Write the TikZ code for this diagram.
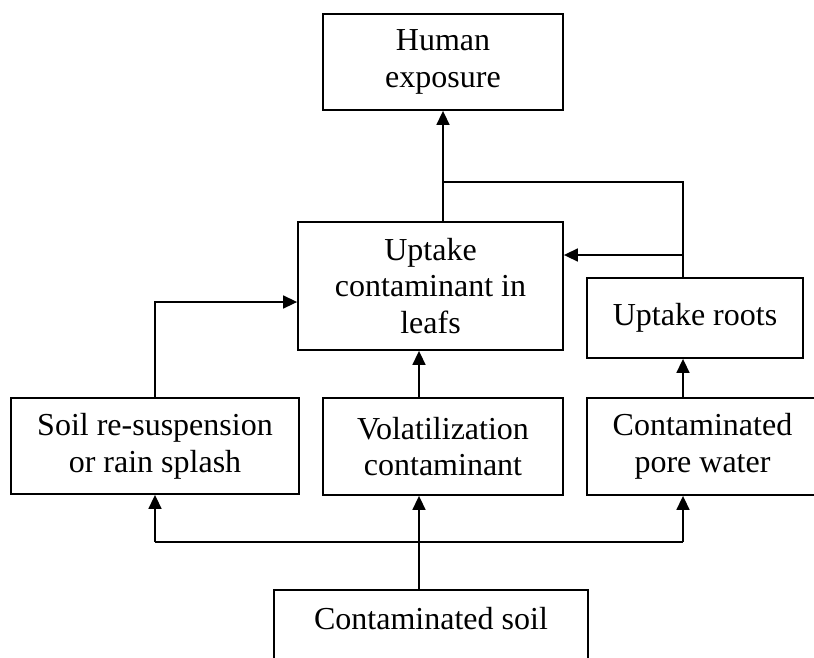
\documentclass[tikz,border=0pt]{standalone}
\usepackage{fontspec}
\setmainfont{Liberation Serif}
\usetikzlibrary{arrows.meta}
\begin{document}
\begin{tikzpicture}[x=1pt,y=-1pt,
  box/.style={draw=black, line width=1.8pt, rectangle, inner sep=0pt, align=center,
    font=\fontsize{32}{36.8}\selectfont},
  txt/.style={inner sep=0pt, align=center, font=\fontsize{32}{36.8}\selectfont},
  conn/.style={line width=1.6pt},
  arr/.style={conn, -{Triangle[length=14pt,width=13pt]}}]
\useasboundingbox (0,0) rectangle (814,657);
\clip (0,0) rectangle (814,657);
\node[box, minimum width=240pt, minimum height=96pt] (human) at (443,62) {Human\\exposure};
\node[box, minimum width=265pt, minimum height=128pt] (uptake) at (430.5,286) {Uptake\\contaminant in\\leafs};
\node[box, minimum width=216pt, minimum height=80pt] (roots) at (695,318) {Uptake roots};
\node[box, minimum width=288pt, minimum height=96pt] (soil) at (155,446) {Soil re-suspension\\or rain splash};
\node[box, minimum width=240pt, minimum height=97pt] (volat) at (443,446.5) {Volatilization\\contaminant};
\node[box, minimum width=231pt, minimum height=97pt] (pore) at (702.5,446.5) {Contaminated\\pore water};
\node[box, minimum width=314pt, minimum height=100pt] (csoil) at (431,640) {};
\node[txt] (csoiltext) at (431,619) {Contaminated soil};
% junction coordinates
\coordinate (topj) at (683,182);
\coordinate (rj) at (683,255);
\coordinate (sj) at (155,302);
\coordinate (busl) at (155,542);
\coordinate (busm) at (419,542);
\coordinate (busr) at (683,542);
% uptake -> human
\draw[arr] (human.south |- uptake.north) -- (human.south);
% roots -> human and -> uptake
\draw[conn] (topj |- roots.north) -- (topj) -- (topj -| human.south);
\draw[arr] (rj) -- (rj -| uptake.east);
% soil -> uptake
\draw[arr] (soil.north) -- (sj) -- (sj -| uptake.west);
% volat -> uptake
\draw[arr] (busm |- volat.north) -- (busm |- uptake.south);
% pore -> roots
\draw[arr] (busr |- pore.north) -- (busr |- roots.south);
% contaminated soil bus
\draw[arr] (busm |- csoil.north) -- (busm |- volat.south);
\draw[conn] (busl) -- (busr);
\draw[arr] (busl) -- (busl |- soil.south);
\draw[arr] (busr) -- (busr |- pore.south);
\end{tikzpicture}
\end{document}
